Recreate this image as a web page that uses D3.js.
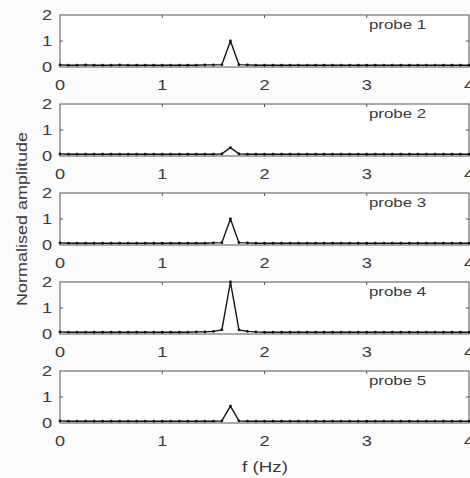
<!DOCTYPE html>
<html>
<head>
<meta charset="utf-8">
<script src="https://cdn.jsdelivr.net/npm/d3@7"></script>
<style>
  html, body { margin: 0; padding: 0; background: #fbfbfb; }
  svg { display: block; }
  text { font-family: "Liberation Sans", Arial, sans-serif; fill: #3a3a3a; }
</style>
</head>
<body>
<svg id="chart" width="470" height="478"></svg>
<script>
// ---- data ----
const freq = [0, 0.083, 0.167, 0.25, 0.333, 0.417, 0.5, 0.583, 0.667, 0.75, 0.833, 0.917,
  1, 1.083, 1.167, 1.25, 1.333, 1.417, 1.5, 1.583, 1.667, 1.75, 1.833, 1.917,
  2, 2.083, 2.167, 2.25, 2.333, 2.417, 2.5, 2.583, 2.667, 2.75, 2.833, 2.917,
  3, 3.083, 3.167, 3.25, 3.333, 3.417, 3.5, 3.583, 3.667, 3.75, 3.833, 3.917, 4];

const probeNames = ["probe 1", "probe 2", "probe 3", "probe 4", "probe 5"];

const probe1 = [0.08, 0.07, 0.07, 0.08, 0.07, 0.07, 0.07, 0.08, 0.07, 0.07, 0.07, 0.07,
  0.07, 0.07, 0.07, 0.07, 0.07, 0.08, 0.08, 0.09, 1.0, 0.09, 0.08, 0.07,
  0.07, 0.07, 0.07, 0.07, 0.07, 0.07, 0.07, 0.07, 0.07, 0.07, 0.07, 0.07,
  0.07, 0.07, 0.07, 0.07, 0.07, 0.07, 0.07, 0.07, 0.07, 0.07, 0.07, 0.07, 0.07];
const probe2 = [0.08, 0.07, 0.07, 0.07, 0.07, 0.07, 0.07, 0.07, 0.07, 0.07, 0.07, 0.07,
  0.07, 0.07, 0.07, 0.07, 0.07, 0.07, 0.07, 0.08, 0.32, 0.08, 0.07, 0.07,
  0.07, 0.07, 0.07, 0.07, 0.07, 0.07, 0.07, 0.07, 0.07, 0.07, 0.07, 0.07,
  0.07, 0.07, 0.07, 0.07, 0.07, 0.07, 0.07, 0.07, 0.07, 0.07, 0.07, 0.07, 0.07];
const probe3 = [0.08, 0.07, 0.07, 0.07, 0.07, 0.07, 0.07, 0.07, 0.07, 0.07, 0.07, 0.07,
  0.07, 0.07, 0.07, 0.07, 0.07, 0.07, 0.08, 0.09, 1.0, 0.09, 0.08, 0.07,
  0.07, 0.07, 0.07, 0.07, 0.07, 0.07, 0.07, 0.07, 0.07, 0.07, 0.07, 0.07,
  0.07, 0.07, 0.07, 0.07, 0.07, 0.07, 0.07, 0.07, 0.07, 0.07, 0.07, 0.07, 0.07];
const probe4 = [0.08, 0.07, 0.07, 0.07, 0.07, 0.07, 0.07, 0.07, 0.07, 0.07, 0.07, 0.07,
  0.07, 0.07, 0.07, 0.07, 0.08, 0.08, 0.1, 0.16, 2.0, 0.16, 0.1, 0.08,
  0.07, 0.07, 0.07, 0.07, 0.07, 0.07, 0.07, 0.07, 0.07, 0.07, 0.07, 0.07,
  0.07, 0.07, 0.07, 0.07, 0.07, 0.07, 0.07, 0.07, 0.07, 0.07, 0.07, 0.07, 0.07];
const probe5 = [0.08, 0.07, 0.07, 0.07, 0.07, 0.07, 0.07, 0.07, 0.07, 0.07, 0.07, 0.07,
  0.07, 0.07, 0.07, 0.07, 0.07, 0.07, 0.07, 0.08, 0.65, 0.08, 0.07, 0.07,
  0.07, 0.07, 0.07, 0.07, 0.07, 0.07, 0.07, 0.07, 0.07, 0.07, 0.07, 0.07,
  0.07, 0.07, 0.07, 0.07, 0.07, 0.07, 0.07, 0.07, 0.07, 0.07, 0.07, 0.07, 0.07];

const probes = [probe1, probe2, probe3, probe4, probe5];
const xTicks = [0, 1, 2, 3, 4];
const yTicks = [0, 1, 2];
const xLabel = "f (Hz)";
const yLabel = "Normalised amplitude";

// ---- layout ----
const svg = d3.select("#chart");
const left = 60, right = 469;
const panelTop0 = 15, panelStep = 89, panelH = 52;
const sx = 1.35; // horizontal stretch of lettering

const x = d3.scaleLinear().domain([0, 4]).range([left, right]);

function stretchedText(g, tx, ty, str, size, anchor, scale) {
  g.append("text")
    .attr("transform", `translate(${tx},${ty}) scale(${scale},1)`)
    .attr("text-anchor", anchor)
    .attr("font-size", size)
    .text(str);
}

probes.forEach((vals, i) => {
  const top = panelTop0 + i * panelStep;
  const y = d3.scaleLinear().domain([0, 2]).range([top + panelH, top]);
  const g = svg.append("g");

  // box
  g.append("rect")
    .attr("x", x(0)).attr("y", y(2))
    .attr("width", x(4) - x(0)).attr("height", y(0) - y(2))
    .attr("fill", "#ffffff").attr("stroke", "#555").attr("stroke-width", 1);

  // inner ticks x (top and bottom)
  xTicks.filter(t => t > 0 && t < 4).forEach(t => {
    g.append("line").attr("x1", x(t)).attr("x2", x(t))
      .attr("y1", y(0)).attr("y2", y(0) - 3).attr("stroke", "#555");
    g.append("line").attr("x1", x(t)).attr("x2", x(t))
      .attr("y1", y(2)).attr("y2", y(2) + 3).attr("stroke", "#555");
  });
  // inner ticks y (left and right)
  yTicks.filter(t => t > 0 && t < 2).forEach(t => {
    g.append("line").attr("x1", x(0)).attr("x2", x(0) + 3)
      .attr("y1", y(t)).attr("y2", y(t)).attr("stroke", "#555");
    g.append("line").attr("x1", x(4)).attr("x2", x(4) - 3)
      .attr("y1", y(t)).attr("y2", y(t)).attr("stroke", "#555");
  });

  // y tick labels
  yTicks.forEach(t => {
    stretchedText(g, x(0) - 8, y(t) + 5, String(t), 14, "end", 1.3);
  });
  // x tick labels
  xTicks.forEach(t => {
    stretchedText(g, x(t), y(0) + 23, String(t), 14, "middle", 1.3);
  });

  // data line
  const pts = freq.map((f, k) => [f, vals[k]]);
  const line = d3.line().x(d => x(d[0])).y(d => y(d[1]));
  g.append("path").datum(pts)
    .attr("d", line)
    .attr("fill", "none").attr("stroke", "#111").attr("stroke-width", 1.4);
  g.selectAll("circle.pt").data(pts).enter().append("circle")
    .attr("cx", d => x(d[0])).attr("cy", d => y(d[1]))
    .attr("r", 1.4).attr("fill", "#111");

  // probe label
  stretchedText(g, 369, top + 14, probeNames[i], 12.5, "start", sx);
});

// axis labels
stretchedText(svg, 265, 472, xLabel, 15, "middle", 1.25);
svg.append("text")
  .attr("transform", `translate(27,${(panelTop0 + 2 * panelStep + panelH / 2) + 0}) rotate(-90) scale(1.2,1)`)
  .attr("text-anchor", "middle")
  .attr("font-size", 15)
  .text(yLabel);
</script>
</body>
</html>
